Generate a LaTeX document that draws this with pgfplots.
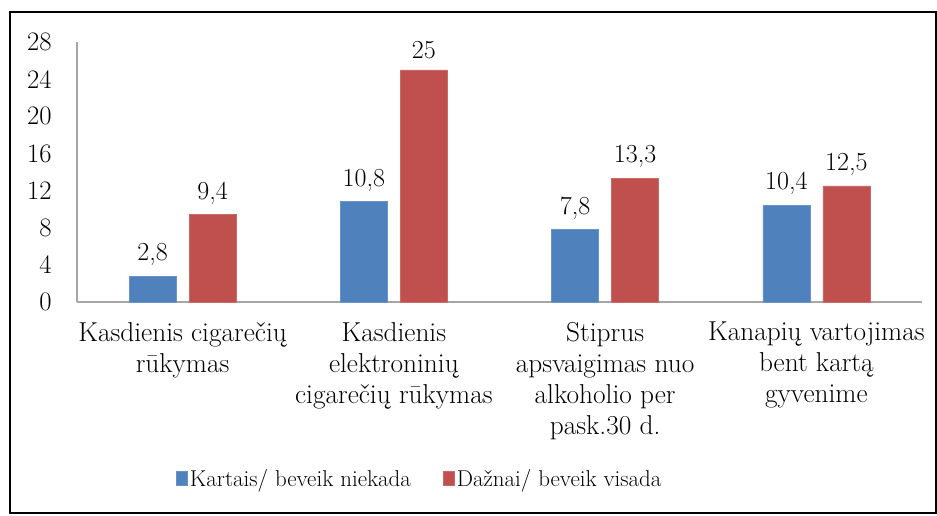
\documentclass[border=0pt]{standalone}
\usepackage{pgfplots}
\pgfplotsset{compat=1.18}
\usepackage{fontspec}
\definecolor{cblue}{HTML}{4F81BD}
\definecolor{cred}{HTML}{C0504D}
\begin{document}
\fontsize{20}{23.5}\selectfont
\begin{tikzpicture}
\path[use as bounding box] (-57.75pt,-159.75pt) rectangle (645pt,226.5pt);
\draw[black, line width=1pt] (-50.25pt,-158.25pt) rectangle (644.25pt,217.5pt);
\begin{axis}[
  at={(0,0)}, anchor=south west,
  scale only axis, width=633.75pt, height=195pt,
  /pgf/number format/assume math mode=true,
  /pgf/number format/use comma,
  font=\fontsize{20}{23.3}\selectfont\rmfamily,
  xmin=-0.5, xmax=3.5, ymin=0, ymax=28,
  ytick={0,4,...,28},
  xtick={0,1,2,3},
  xticklabels={{Kasdienis cigarečių\\rūkymas},{Kasdienis\\elektroninių\\cigarečių rūkymas},{Stiprus\\apsvaigimas nuo\\alkoholio per\\pask.30 d.},{Kanapių vartojimas\\bent kartą\\gyvenime}},
  xticklabel style={align=center, anchor=north, yshift=-4pt, font=\fontsize{20.5}{23.3}\selectfont\rmfamily},
  yticklabel style={xshift=-10pt},
  tick style={draw=none},
  axis x line=bottom, axis y line=left,
  axis line style={-, draw=gray!70, line width=1pt},
  ybar, bar width=0.223,
  nodes near coords,
  nodes near coords style={font=\fontsize{19.5}{22}\selectfont\rmfamily, yshift=1pt},
  legend columns=2,
  legend style={draw=none, at={(0.406,-0.685)}, anchor=center, font=\fontsize{17.2}{20}\selectfont\rmfamily, /tikz/every even column/.append style={column sep=22pt}},
  legend image code/.code={\fill[#1] (0pt,-4pt) rectangle (8pt,6.5pt);},
]
\addplot[fill=cblue, draw=cblue!85!white, bar shift=-0.142] coordinates {(0,2.8) (1,10.8) (2,7.8) (3,10.4)};
\addplot[fill=cred, draw=cred!85!white, bar shift=0.142] coordinates {(0,9.4) (1,25) (2,13.3) (3,12.5)};
\legend{Kartais/ beveik niekada, Dažnai/ beveik visada}
\end{axis}
\end{tikzpicture}
\end{document}
